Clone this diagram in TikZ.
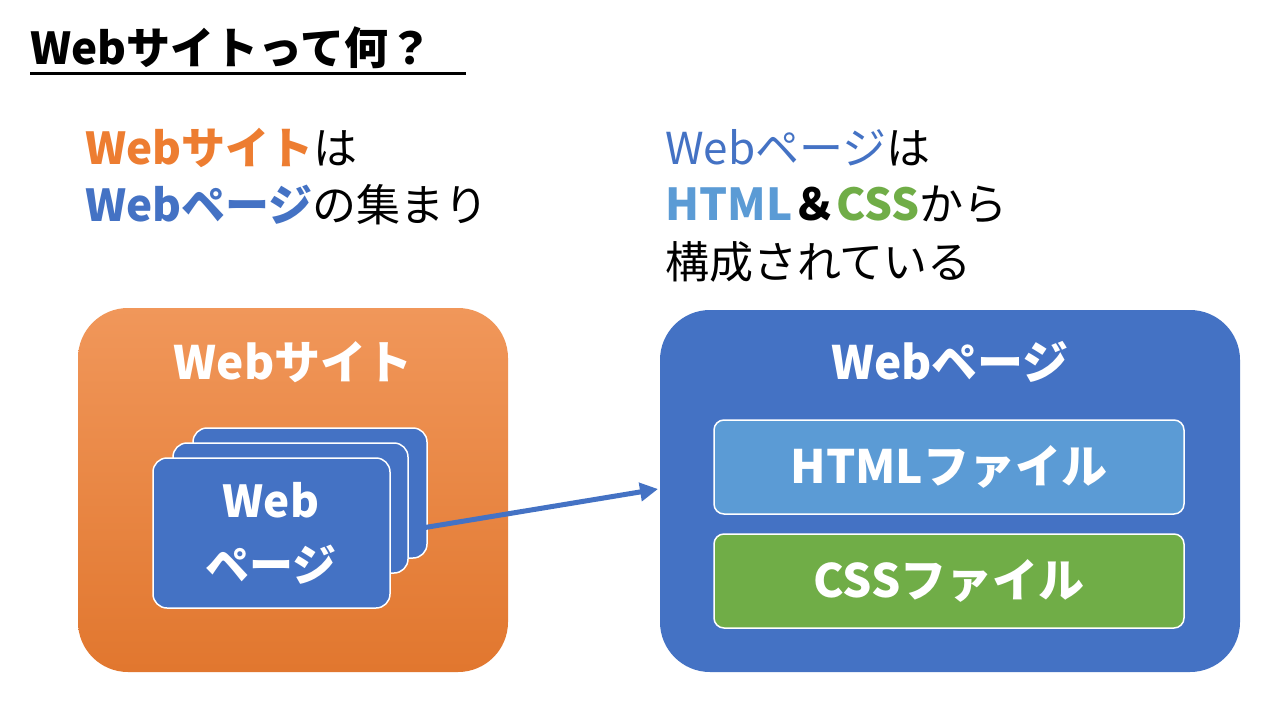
\documentclass[tikz,border=0pt]{standalone}
\usepackage{fontspec}
\setmainfont{Noto Sans CJK JP}
\usetikzlibrary{arrows.meta}
\definecolor{og}{HTML}{ED7D31}
\definecolor{bl}{HTML}{4472C4}
\definecolor{lb}{HTML}{5B9BD5}
\definecolor{gr}{HTML}{70AD47}
\tikzset{
 big/.style={font=\fontsize{44}{52}\selectfont, anchor=west, inner sep=0},
 card/.style={draw=white, line width=1.5pt, fill=bl, rounded corners=14pt},
 wt/.style={text=white, font=\bfseries\fontsize{46}{54}\selectfont}
}
\begin{document}
\begin{tikzpicture}[x=1pt,y=-1pt]
\useasboundingbox (0,0) rectangle (1280,720);
\fill[white] (0,0) rectangle (1280,720);
\node[big, font=\bfseries\fontsize{44}{52}\selectfont] (t) at (30,48) {Webサイトって何？};
\draw[line width=3pt] (30,73) -- (466,73);
\node[big] (l1) at (85,148) {\textbf{\textcolor{og}{Webサイト}}は};
\node[big] (l2) at (85,205) {\textbf{\textcolor{bl}{Webページ}}の集まり};
\node[big] (r1) at (665,148) {\textcolor{bl}{Webページ}は};
\node[big] (r2) at (665,205) {\textbf{\textcolor{lb}{HTML}＆\textcolor{gr}{CSS}}から};
\node[big] (r3) at (665,262) {構成されている};
\shade[top color=og!80!white, bottom color=og!95!black, rounded corners=50pt] (78,308) rectangle (508,672);
\node[wt] (ws) at (293,362) {Webサイト};
\draw[card] (193,428) rectangle (427,558);
\draw[card] (173,443) rectangle (408,573);
\draw[card] (153,458) rectangle (390,608);
\node[wt, align=center, font=\bfseries\fontsize{44}{64}\selectfont] (wp) at (271,533) {Web\\ページ};
\fill[bl, rounded corners=50pt] (660,310) rectangle (1240,672);
\node[wt] (bt) at (950,362) {Webページ};
\draw[card, fill=lb, rounded corners=10pt] (714,420) rectangle (1184,514);
\node[wt] (h) at (949,467) {HTMLファイル};
\draw[card, fill=gr, rounded corners=10pt] (714,534) rectangle (1184,628);
\node[wt] (c) at (949,581) {CSSファイル};
\coordinate (a0) at (410,530);
\coordinate (a1) at (658,489);
\draw[bl, line width=5pt, -{Triangle[length=18pt,width=18pt]}] (a0) -- (a1);
\end{tikzpicture}
\end{document}
